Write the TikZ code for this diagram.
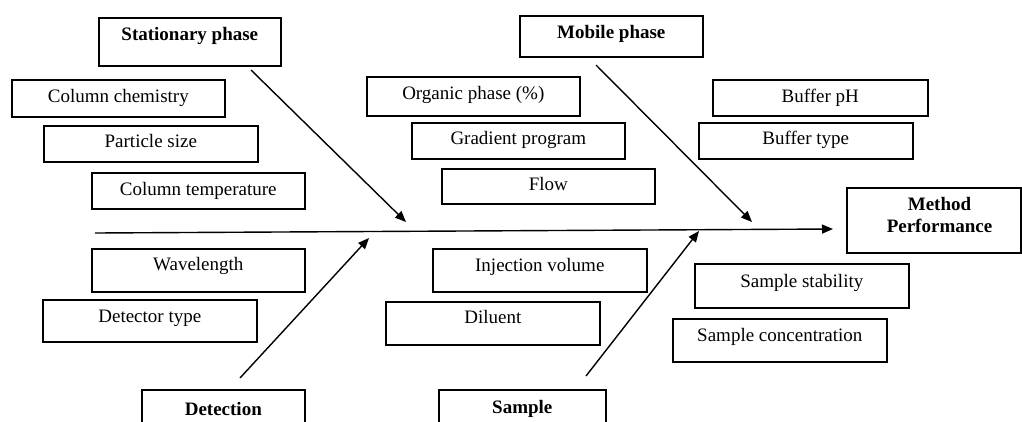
\documentclass[tikz,border=0pt]{standalone}
\usepackage{fontspec}
\setmainfont{Liberation Serif}
\usetikzlibrary{arrows.meta}
\begin{document}
\begin{tikzpicture}[x=1pt,y=-1pt,
  box/.style={draw, line width=1.6pt, inner sep=0pt, anchor=north west,
    font=\fontsize{19}{22}\selectfont},
  head/.style={box, font=\fontsize{19}{22}\selectfont\bfseries},
  arr/.style={line width=1.4pt, -{Triangle[length=11pt,width=9pt]}}]
\useasboundingbox (0,0) rectangle (1022,421);
\clip (0,0) rectangle (1022,421);

% cause categories (headers)
\node[head, minimum width=182pt, text height=23pt, text depth=25pt] (stat) at (98,17) {Stationary phase};
\node[head, minimum width=183pt, text height=23pt, text depth=18pt] (mobile) at (519,15) {Mobile phase};
\node[head, minimum width=163pt, text height=26pt, text depth=20pt] (detection) at (141,389) {Detection};
\node[head, minimum width=167pt, text height=24pt, text depth=22pt] (sample) at (438,389) {Sample};

% stationary phase factors
\node[box, minimum width=213pt, text height=23pt, text depth=14pt] (colchem) at (11,79) {Column chemistry};
\node[box, minimum width=214pt, text height=22pt, text depth=14pt] (partsize) at (43,125) {Particle size};
\node[box, minimum width=213pt, text height=23pt, text depth=13pt] (coltemp) at (91,172) {Column temperature};

% mobile phase factors
\node[box, minimum width=213pt, text height=23pt, text depth=16pt] (organic) at (366,76) {Organic phase (\%)};
\node[box, minimum width=213pt, text height=22pt, text depth=14pt] (gradient) at (411,122) {Gradient program};
\node[box, minimum width=213pt, text height=22pt, text depth=13pt] (flow) at (441,168) {Flow};
\node[box, minimum width=215pt, text height=23pt, text depth=13pt] (bufph) at (712,79) {Buffer pH};
\node[box, minimum width=214pt, text height=22pt, text depth=14pt] (buftype) at (698,122) {Buffer type};

% detection factors
\node[box, minimum width=213pt, text height=22pt, text depth=21pt] (wavelength) at (91,248) {Wavelength};
\node[box, minimum width=214pt, text height=23pt, text depth=19pt] (dettype) at (42,299) {Detector type};

% sample factors
\node[box, minimum width=214pt, text height=23pt, text depth=20pt] (injvol) at (432,248) {Injection volume};
\node[box, minimum width=214pt, text height=22pt, text depth=21pt] (diluent) at (385,301) {Diluent};
\node[box, minimum width=214pt, text height=24pt, text depth=20pt] (sampstab) at (694,263) {Sample stability};
\node[box, minimum width=214pt, text height=23pt, text depth=20pt] (sampconc) at (672,318) {Sample concentration};

% effect
\node[draw, line width=1.6pt, inner sep=0pt, anchor=north west,
  minimum width=174pt, minimum height=65pt] (effect) at (846,187) {};
\node[inner sep=0pt, anchor=north, align=center,
  font=\fontsize{19}{22}\selectfont\bfseries] (effecttext) at (939.5,197) {Method\\Performance};

% spine and bones
\coordinate (sp0) at (95,233);
\coordinate (sp1) at (833,229);
\coordinate (b1s) at (251,70);  \coordinate (b1e) at (406,222);
\coordinate (b2s) at (596,65);  \coordinate (b2e) at (752,222);
\coordinate (b3s) at (240,378); \coordinate (b3e) at (369,238);
\coordinate (b4s) at (586,376); \coordinate (b4e) at (699,231);

\draw[arr] (sp0) -- (sp1);
\draw[arr] (b1s) -- (b1e);
\draw[arr] (b2s) -- (b2e);
\draw[arr] (b3s) -- (b3e);
\draw[arr] (b4s) -- (b4e);
\end{tikzpicture}
\end{document}
